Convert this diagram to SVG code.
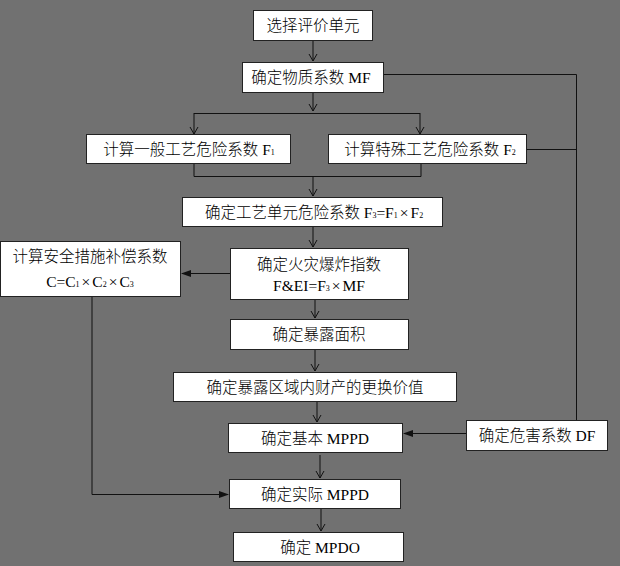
<svg xmlns="http://www.w3.org/2000/svg" width="620" height="566" viewBox="0 0 620 566">
<style>
.box{fill:#fff;stroke:#222;stroke-width:1}
.t{font-family:"Liberation Serif","Noto Sans CJK SC",serif;font-size:15.5px;font-weight:300;fill:#000;text-anchor:middle}
.s{font-size:8px}
.ln{fill:none;stroke:#111;stroke-width:1}
</style>
<defs>
<marker id="v" markerWidth="10" markerHeight="10" refX="9" refY="5" orient="auto" markerUnits="userSpaceOnUse" viewBox="0 0 10 10">
<path d="M2,1 L9,5 L2,9" fill="none" stroke="#111" stroke-width="1"/>
</marker>
<marker id="f" markerWidth="10" markerHeight="8" refX="9" refY="4" orient="auto" markerUnits="userSpaceOnUse" viewBox="0 0 10 8">
<path d="M0,0.5 L10,4 L0,7.5 Z" fill="#111"/>
</marker>
</defs>
<rect width="620" height="566" fill="#717171"/>
<g id="connectors">
<line class="ln" x1="313" y1="41" x2="313" y2="61" marker-end="url(#v)"/>
<line class="ln" x1="313" y1="93" x2="313" y2="111" marker-end="url(#v)"/>
<line class="ln" x1="194" y1="113.5" x2="420" y2="113.5"/>
<line class="ln" x1="194" y1="113" x2="194" y2="134" marker-end="url(#v)"/>
<line class="ln" x1="420" y1="113" x2="420" y2="134" marker-end="url(#v)"/>
<polyline class="ln" points="194,164 194,176.5 421,176.5 421,164"/>
<line class="ln" x1="313" y1="176" x2="313" y2="196" marker-end="url(#v)"/>
<line class="ln" x1="313" y1="227" x2="313" y2="247" marker-end="url(#v)"/>
<line class="ln" x1="315" y1="300" x2="315" y2="318" marker-end="url(#v)"/>
<line class="ln" x1="315" y1="350" x2="315" y2="371" marker-end="url(#v)"/>
<line class="ln" x1="317" y1="402" x2="317" y2="422" marker-end="url(#v)"/>
<line class="ln" x1="320" y1="455" x2="320" y2="478" marker-end="url(#v)"/>
<line class="ln" x1="321" y1="509" x2="321" y2="531" marker-end="url(#v)"/>
<line class="ln" x1="230" y1="273.5" x2="182" y2="273.5" marker-end="url(#f)"/>
<line class="ln" x1="466" y1="433.5" x2="404" y2="433.5" marker-end="url(#f)"/>
<polyline class="ln" points="92,297 92,494.5 228,494.5" marker-end="url(#f)"/>
<polyline class="ln" points="384,74.5 576.5,74.5 576.5,420"/>
<line class="ln" x1="527" y1="149.5" x2="576.5" y2="149.5"/>
</g>
<g id="n1"><rect class="box" x="253.5" y="10.5" width="119" height="30"/><text class="t" x="313" y="31">选择评价单元</text></g>
<g id="n2"><rect class="box" x="242.5" y="62.5" width="141" height="30"/><text class="t" x="311" y="83">确定物质系数 MF</text></g>
<g id="n3"><rect class="box" x="86.5" y="134.5" width="204" height="29"/><text class="t" x="189" y="155">计算一般工艺危险系数 F<tspan class="s">1</tspan></text></g>
<g id="n4"><rect class="box" x="328.5" y="134.5" width="198" height="29"/><text class="t" x="430" y="155">计算特殊工艺危险系数 F<tspan class="s">2</tspan></text></g>
<g id="n5"><rect class="box" x="182.5" y="197.5" width="260" height="29"/><text class="t" x="314" y="218">确定工艺单元危险系数 F<tspan class="s">3</tspan>=F<tspan class="s">1</tspan><tspan dx="2">×</tspan><tspan dx="2">F</tspan><tspan class="s">2</tspan></text></g>
<g id="n6"><rect class="box" x="0.5" y="241.5" width="180" height="55"/><text class="t" x="90" y="262">计算安全措施补偿系数</text><text class="t" x="90" y="287">C=C<tspan class="s">1</tspan><tspan dx="2">×</tspan><tspan dx="2">C</tspan><tspan class="s">2</tspan><tspan dx="2">×</tspan><tspan dx="2">C</tspan><tspan class="s">3</tspan></text></g>
<g id="n7"><rect class="box" x="230.5" y="248.5" width="178" height="51"/><text class="t" x="319" y="270">确定火灾爆炸指数</text><text class="t" x="319" y="291">F&amp;EI=F<tspan class="s">3</tspan><tspan dx="2">×</tspan><tspan dx="2">MF</tspan></text></g>
<g id="n8"><rect class="box" x="230.5" y="319.5" width="178" height="30"/><text class="t" x="319" y="340">确定暴露面积</text></g>
<g id="n9"><rect class="box" x="173.5" y="372.5" width="283" height="29"/><text class="t" x="315" y="393">确定暴露区域内财产的更换价值</text></g>
<g id="n10"><rect class="box" x="228.5" y="423.5" width="174" height="29"/><text class="t" x="315" y="444">确定基本 MPPD</text></g>
<g id="n11"><rect class="box" x="466.5" y="420.5" width="141" height="30"/><text class="t" x="537" y="441">确定危害系数 DF</text></g>
<g id="n12"><rect class="box" x="229.5" y="479.5" width="171" height="29"/><text class="t" x="315" y="500">确定实际 MPPD</text></g>
<g id="n13"><rect class="box" x="233.5" y="532.5" width="170" height="29"/><text class="t" x="320" y="553">确定 MPDO</text></g>
</svg>
